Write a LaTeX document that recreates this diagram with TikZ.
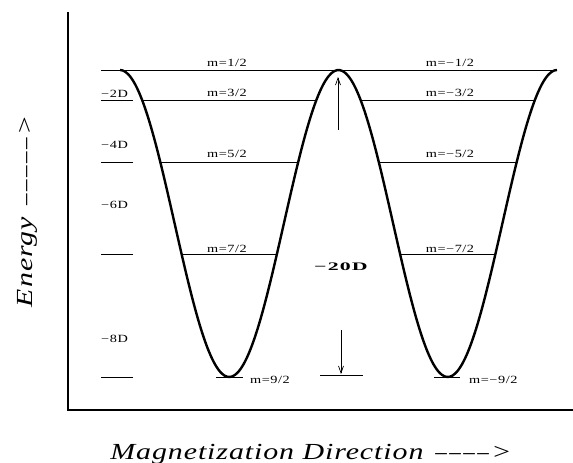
\documentclass[tikz,border=0pt]{standalone}
\usepackage{fontspec}
\setmainfont{Liberation Serif}
\usetikzlibrary{arrows.meta}

\newcommand{\gapdash}{{\addfontfeatures{FakeStretch=1.0}\textendash}\hspace{2.5pt}}

\tikzset{
  axisline/.style={line width=1.1pt},
  levelline/.style={line width=0.8pt},
  wellcurve/.style={line width=2.4pt},
  mlabel/.style={anchor=base, inner sep=0pt, font=\fontsize{11}{13}\selectfont\addfontfeatures{FakeStretch=1.3,LetterSpace=5}},
  dlabel/.style={anchor=base west, inner sep=0pt, font=\fontsize{11}{13}\selectfont\addfontfeatures{FakeStretch=1.3,LetterSpace=5}},
  axislabel/.style={anchor=base, inner sep=0pt, font=\fontsize{23}{26}\selectfont\itshape\addfontfeatures{FakeStretch=1.3,LetterSpace=4}},
  barrier/.style={line width=0.7pt, -{Straight Barb[length=7pt,width=5pt]}}
}

\begin{document}
\begin{tikzpicture}[x=1pt, y=-1pt]
    \useasboundingbox (0,0) rectangle (573,463);

    % axes
    \draw[axisline] (68,12) -- (68,410) -- (573,410);
    \node[axislabel, rotate=90] (energy) at (32,211) {Energy\hspace{12pt}\gapdash\gapdash\gapdash\gapdash\gapdash>};
    \node[axislabel] (direction) at (311,459) {Magnetization Direction\hspace{12pt}\gapdash\gapdash\gapdash\gapdash>};

    % double well
    \draw[wellcurve] plot[domain=120:557, samples=160, smooth] (\x, {70+153.5*(1-cos(1.6476*(\x-120)))});

    % levels
    \draw[levelline] (101,70) -- (557,70);
    \node[mlabel] (ml0) at (227,66) {m=1/2};
    \node[mlabel] (mr0) at (450,66) {m=−1/2};
    \foreach \y/\lab/\b [count=\i] in {100/3/96, 162/5/157, 254/7/252} {
        \pgfmathsetmacro{\dx}{acos(1-2*(\y-70)/307)/1.6476}
        \draw[levelline] (101,\y) -- (133,\y);
        \draw[levelline] ({120+\dx},\y) -- ({338.5-\dx},\y);
        \draw[levelline] ({338.5+\dx},\y) -- ({557-\dx},\y);
        \node[mlabel] (ml\i) at (227,\b) {m=\lab/2};
        \node[mlabel] (mr\i) at (450,\b) {m=−\lab/2};
    }
    \draw[levelline] (101,377) -- (133,377);
    \draw[levelline] (216,377) -- (243,377);
    \draw[levelline] (320,375) -- (363,375);
    \draw[levelline] (434,377) -- (460,377);
    \node[dlabel] (ml4) at (250,383) {m=9/2};
    \node[dlabel] (mr4) at (469,383) {m=−9/2};

    % energy marks
    \foreach \y/\d in {97/2, 148/4, 208/6, 342/8}
        \node[dlabel] (d\d) at (101,\y) {−\d D};

    % barrier height
    \node[anchor=base, inner sep=0pt, font=\fontsize{11.5}{14}\selectfont\bfseries\addfontfeatures{FakeStretch=1.9,LetterSpace=10}] (height) at (341,270) {−20D};
    \coordinate (upfrom) at (338,130);
    \coordinate (upto) at (338,77);
    \coordinate (downfrom) at (341,330);
    \coordinate (downto) at (341,374);
    \draw[barrier] (upfrom) -- (upto);
    \draw[barrier] (downfrom) -- (downto);
\end{tikzpicture}
\end{document}
